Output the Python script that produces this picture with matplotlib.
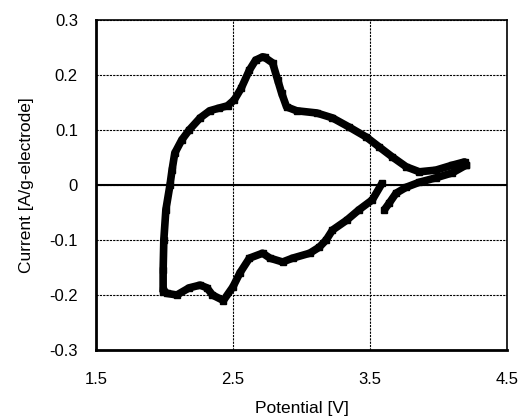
import numpy as np
import matplotlib.pyplot as plt

plt.rcParams['font.family'] = ['Liberation Sans', 'DejaVu Sans']

# anodic sweep (2.0 V -> 4.2 V)
v_up = [1.99, 1.99, 1.995, 2.01, 2.04, 2.055, 2.075, 2.126, 2.18, 2.26, 2.33,
        2.40, 2.46, 2.51, 2.56, 2.62, 2.665, 2.716, 2.731, 2.789, 2.826, 2.855,
        2.891, 2.964, 3.11, 3.226, 3.35, 3.474, 3.568, 3.663, 3.765, 3.86,
        3.98, 4.10, 4.19, 4.20]
i_up = [-0.195, -0.155, -0.10, -0.045, 0.0, 0.027, 0.058, 0.082, 0.10, 0.122,
        0.135, 0.14, 0.144, 0.155, 0.176, 0.209, 0.227, 0.233, 0.232, 0.222,
        0.191, 0.167, 0.142, 0.135, 0.131, 0.122, 0.105, 0.087, 0.069, 0.051,
        0.033, 0.024, 0.027, 0.036, 0.042, 0.036]

# cathodic sweep, first part (4.2 V -> 3.6 V)
v_down1 = [4.20, 4.10, 3.98, 3.86, 3.765, 3.69, 3.64, 3.605]
i_down1 = [0.036, 0.022, 0.013, 0.005, -0.004, -0.015, -0.033, -0.045]

# cathodic sweep, second part (3.6 V -> 2.0 V)
v_down2 = [3.59, 3.517, 3.42, 3.33, 3.226, 3.18, 3.13, 3.06, 2.935, 2.862,
           2.77, 2.716, 2.62, 2.55, 2.50, 2.43, 2.35, 2.31, 2.26, 2.18,
           2.09, 2.017, 1.99]
i_down2 = [0.004, -0.027, -0.045, -0.064, -0.082, -0.10, -0.113, -0.124,
           -0.133, -0.14, -0.133, -0.124, -0.133, -0.16, -0.185, -0.21,
           -0.2, -0.187, -0.182, -0.187, -0.2, -0.197, -0.19]

fig = plt.figure(figsize=(5.29, 4.18), dpi=100)
ax = fig.add_axes([96 / 529, 68 / 418, 411 / 529, 330 / 418])

for v, i in [(v_up, i_up), (v_down1, i_down1), (v_down2, i_down2)]:
    ax.plot(v, i, color='black', lw=5.5, marker='s', ms=4.5,
            solid_joinstyle='round', solid_capstyle='butt')

ax.set_xlim(1.5, 4.5)
ax.set_ylim(-0.3, 0.3)
ax.set_xticks([1.5, 2.5, 3.5, 4.5])
ax.set_xticklabels(['1.5', '2.5', '3.5', '4.5'])
ax.set_yticks([-0.3, -0.2, -0.1, 0, 0.1, 0.2, 0.3])
ax.set_yticklabels(['-0.3', '-0.2', '-0.1', '0', '0.1', '0.2', '0.3'])
ax.tick_params(length=0, labelsize=12)
ax.tick_params(axis='x', pad=16)
ax.tick_params(axis='y', pad=13)

ax.grid(True, color='black', ls=(0, (2, 1)), lw=0.8)
ax.axhline(0, color='black', lw=1.5)
ax.set_axisbelow(True)
for side in ['left', 'bottom']:
    ax.spines[side].set_linewidth(2)
for side in ['top', 'right']:
    ax.spines[side].set_linewidth(1.2)

ax.set_xlabel('Potential [V]', fontsize=12.5, labelpad=10)
ax.set_ylabel('Current [A/g-electrode]', fontsize=12.5, labelpad=11)

plt.savefig('out.png', dpi=100)
